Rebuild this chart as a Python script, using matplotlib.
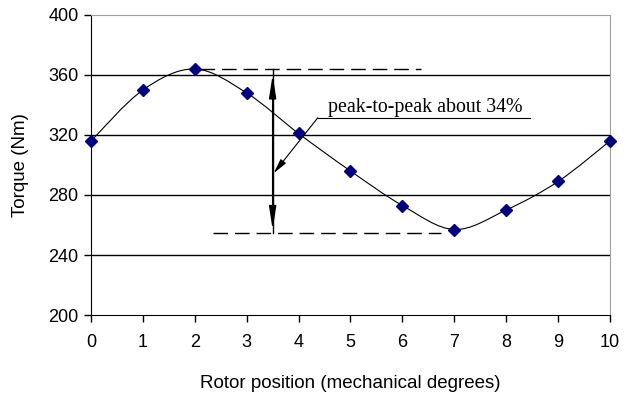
import numpy as np
import matplotlib
matplotlib.use("Agg")
import matplotlib.pyplot as plt
from matplotlib.path import Path
from matplotlib.patches import PathPatch

# Torque ripple data
rotor_pos = [0, 1, 2, 3, 4, 5, 6, 7, 8, 9, 10]
torque = [316, 350, 364, 348, 321, 296, 273, 257, 270, 289, 316]
y_ticks = [200, 240, 280, 320, 360, 400]
peak_val = 364
trough_val = 255
note_text = "peak-to-peak about 34%"

plt.rcParams['font.family'] = ['Liberation Sans', 'DejaVu Sans']

fig = plt.figure(figsize=(6.35, 4.05), dpi=100)
ax = fig.add_axes([0.1433, 0.2222, 0.8173, 0.7408])


def smooth_path(xs, ys, t=1 / 6):
    # Catmull-Rom style bezier, like Excel's "smoothed line"
    xs = np.asarray(xs, float)
    ys = np.asarray(ys, float)
    verts = [(xs[0], ys[0])]
    codes = [Path.MOVETO]
    n = len(xs)
    for i in range(n - 1):
        p0 = (xs[max(i - 1, 0)], ys[max(i - 1, 0)])
        p1 = (xs[i], ys[i])
        p2 = (xs[i + 1], ys[i + 1])
        p3 = (xs[min(i + 2, n - 1)], ys[min(i + 2, n - 1)])
        c1 = (p1[0] + (p2[0] - p0[0]) * t, p1[1] + (p2[1] - p0[1]) * t)
        c2 = (p2[0] - (p3[0] - p1[0]) * t, p2[1] - (p3[1] - p1[1]) * t)
        verts += [c1, c2, p2]
        codes += [Path.CURVE4] * 3
    return Path(verts, codes)


for v in y_ticks[1:-1]:
    ax.axhline(v, color='black', lw=1.0, zorder=1)

ax.add_patch(PathPatch(smooth_path(rotor_pos, torque), fill=False,
                       edgecolor='black', lw=0.8, zorder=2))
ax.plot(rotor_pos, torque, linestyle='none', marker='D', markersize=6.5,
        color='#000080', zorder=3, clip_on=False)

# dashed reference lines at peak and trough
ax.plot([2.1, 6.35], [peak_val, peak_val], color='black', lw=1.0,
        dashes=(10.5, 5), zorder=2)
ax.plot([2.35, 6.75], [trough_val, trough_val], color='black', lw=1.0,
        dashes=(10.5, 5), zorder=2)

# vertical double arrow
ax.annotate('', xy=(3.5, 360), xytext=(3.5, 330),
            arrowprops=dict(arrowstyle='-|>,head_length=1.4,head_width=0.22',
                            color='black', lw=1.0, shrinkA=0, shrinkB=0))
ax.annotate('', xy=(3.5, 257), xytext=(3.5, 330),
            arrowprops=dict(arrowstyle='-|>,head_length=1.4,head_width=0.22',
                            color='black', lw=1.0, shrinkA=0, shrinkB=0))
ax.plot([3.5, 3.5], [peak_val, trough_val], color='black', lw=1.0, zorder=2)

# note with underline and leader
ax.text(4.57, 338.5, note_text, family=['Liberation Serif', 'DejaVu Serif'],
        fontsize=14.3, va='center', ha='left')
ax.plot([4.37, 8.45], [331.5, 331.5], color='black', lw=0.8)
ax.annotate('', xy=(3.52, 294.5), xytext=(4.37, 331.5),
            arrowprops=dict(arrowstyle='-|>,head_length=0.9,head_width=0.2',
                            color='black', lw=0.8, shrinkA=0, shrinkB=0))

ax.set_xlim(0, 10)
ax.set_ylim(200, 400)
ax.set_xticks(rotor_pos)
ax.set_yticks(y_ticks)
ax.tick_params(axis='both', direction='out', length=5, width=1,
               labelsize=13, color='black')
ax.tick_params(axis='x', pad=9)
ax.tick_params(axis='y', pad=4)

for side in ['top', 'right']:
    ax.spines[side].set_color('#a0a0a0')
for side in ['left', 'bottom']:
    ax.spines[side].set_color('black')

ax.set_xlabel('Rotor position (mechanical degrees)', fontsize=13.5, labelpad=17)
ax.set_ylabel('Torque (Nm)', fontsize=13.5, labelpad=14)

fig.savefig('out.png', dpi=100)
